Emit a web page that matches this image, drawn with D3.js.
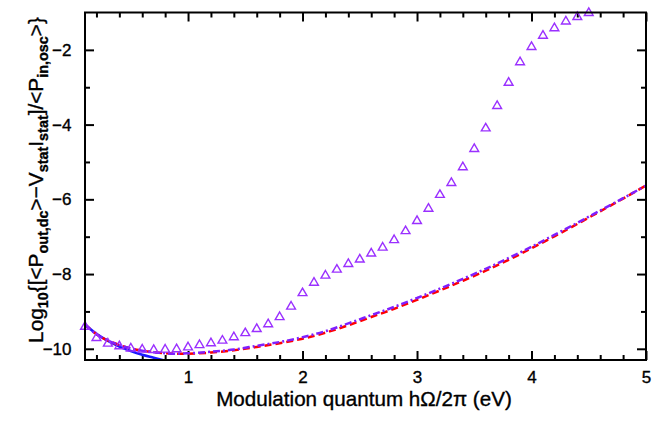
<!DOCTYPE html>
<html>
<head>
<meta charset="utf-8">
<script src="https://cdn.jsdelivr.net/npm/d3@7"></script>
<style>
  html, body { margin: 0; padding: 0; background: #fff; }
  svg { display: block; }
</style>
</head>
<body>
<svg id="chart" width="653" height="436"></svg>
<script>
// ---------- data ----------
const xMajorTicks = [1, 2, 3, 4, 5];
const xMinorTicks = [0.2, 0.4, 0.6, 0.8, 1.2, 1.4, 1.6, 1.8, 2.2, 2.4, 2.6, 2.8, 3.2, 3.4, 3.6, 3.8, 4.2, 4.4, 4.6, 4.8];
const yMajorTicks = [-2, -4, -6, -8, -10];
const yMinorTicks = [-3, -5, -7, -9];

const triX = [0.1,0.2,0.3,0.4,0.5,0.6,0.7,0.8,0.9,1.0,
              1.1,1.2,1.3,1.4,1.5,1.6,1.7,1.8,1.9,2.0,
              2.1,2.2,2.3,2.4,2.5,2.6,2.7,2.8,2.9,3.0,
              3.1,3.2,3.3,3.4,3.5,3.6,3.7,3.8,3.9,4.0,
              4.1,4.2,4.3,4.4,4.5];
const triY = [-9.39,-9.69,-9.84,-9.91,-9.97,-10.0,-10.01,-10.0,-9.99,-9.94,
              -9.88,-9.83,-9.76,-9.67,-9.56,-9.45,-9.32,-9.13,-8.85,-8.49,
              -8.21,-8.02,-7.86,-7.71,-7.59,-7.43,-7.27,-7.07,-6.83,-6.56,
              -6.23,-5.86,-5.54,-5.12,-4.63,-4.08,-3.48,-2.86,-2.31,-1.90,
              -1.60,-1.40,-1.22,-1.10,-0.99];

const curveX = [0.1,0.2,0.3,0.4,0.5,0.6,0.7,0.8,0.9,1.0,1.2,1.4,1.6,1.8,2.0,2.2,2.4,2.6,2.8,3.0,3.2,3.4,3.6,3.8,4.0,4.2,4.4,4.6,4.8,5.0];
const redY   = [-9.35,-9.61,-9.78,-9.90,-9.99,-10.05,-10.09,-10.12,-10.13,-10.13,-10.10,-10.04,-9.95,-9.85,-9.73,-9.57,-9.37,-9.15,-8.93,-8.69,-8.44,-8.18,-7.91,-7.62,-7.31,-6.99,-6.66,-6.32,-5.98,-5.63];
const purpleY= [-9.35,-9.61,-9.78,-9.90,-9.99,-10.05,-10.09,-10.12,-10.13,-10.12,-10.08,-10.02,-9.92,-9.82,-9.69,-9.53,-9.32,-9.10,-8.88,-8.64,-8.39,-8.13,-7.86,-7.57,-7.27,-6.95,-6.63,-6.30,-5.97,-5.63];

const blueX = [0.1,0.2,0.3,0.4,0.5,0.6,0.7,0.8];
const blueY = [-9.35,-9.60,-9.79,-9.94,-10.06,-10.16,-10.24,-10.32];

// ---------- layout ----------
const svg = d3.select("#chart");
const L = 85, R = 646, T = 12.5, B = 360;
const x = d3.scaleLinear().domain([0.1, 5]).range([L, R]);
const y = d3.scaleLinear().domain([-10.3, -1]).range([B, T]);
const font = "'Liberation Sans', Arial, Helvetica, sans-serif";

svg.append("defs").append("clipPath").attr("id", "clip")
  .append("rect").attr("x", L).attr("y", T).attr("width", R - L).attr("height", B - T);

// axes (ticks pointing inward)
function styleAxis(g) {
  g.select(".domain").remove();
  g.selectAll(".tick line").attr("stroke", "#000").attr("stroke-width", 2);
  g.selectAll(".tick text").attr("fill", "#000").attr("font-family", font).attr("font-size", 17)
    .attr("stroke", "#000").attr("stroke-width", 0.35);
}
svg.append("g").attr("transform", `translate(0,${B})`)
  .call(d3.axisBottom(x).tickValues(xMajorTicks).tickSize(-9).tickPadding(11).tickFormat(d3.format("d"))).call(styleAxis);
svg.append("g").attr("transform", `translate(0,${B})`)
  .call(d3.axisBottom(x).tickValues(xMinorTicks).tickSize(-5).tickFormat("")).call(styleAxis);
svg.append("g").attr("transform", `translate(0,${T})`)
  .call(d3.axisTop(x).tickValues(xMajorTicks).tickSize(-9).tickFormat("")).call(styleAxis);
svg.append("g").attr("transform", `translate(0,${T})`)
  .call(d3.axisTop(x).tickValues(xMinorTicks).tickSize(-5).tickFormat("")).call(styleAxis);
svg.append("g").attr("transform", `translate(${L},0)`)
  .call(d3.axisLeft(y).tickValues(yMajorTicks).tickSize(-9).tickPadding(13.5).tickFormat(d3.format("d"))).call(styleAxis);
svg.append("g").attr("transform", `translate(${L},0)`)
  .call(d3.axisLeft(y).tickValues(yMinorTicks).tickSize(-5).tickFormat("")).call(styleAxis);
svg.append("g").attr("transform", `translate(${R},0)`)
  .call(d3.axisRight(y).tickValues(yMajorTicks).tickSize(-9).tickFormat("")).call(styleAxis);
svg.append("g").attr("transform", `translate(${R},0)`)
  .call(d3.axisRight(y).tickValues(yMinorTicks).tickSize(-5).tickFormat("")).call(styleAxis);

// curves
const line = d3.line().x(d => x(d[0])).y(d => y(d[1])).curve(d3.curveMonotoneX);
const plot = svg.append("g").attr("clip-path", "url(#clip)");
plot.append("path").datum(d3.zip(blueX, blueY)).attr("d", line)
  .attr("fill", "none").attr("stroke", "#1a1aff").attr("stroke-width", 2.5);
plot.append("path").datum(d3.zip(curveX, redY)).attr("d", line)
  .attr("fill", "none").attr("stroke", "#ff0000").attr("stroke-width", 2.5)
  .attr("stroke-dasharray", "7,4");
plot.append("path").datum(d3.zip(curveX, purpleY)).attr("d", line)
  .attr("fill", "none").attr("stroke", "#7f1fff").attr("stroke-width", 2.5)
  .attr("stroke-dasharray", "7,3,2,3");

// triangles
const tri = "M0,-4.3L4.4,3.3L-4.4,3.3Z";
svg.append("g").selectAll("path").data(d3.zip(triX, triY)).join("path")
  .attr("d", tri)
  .attr("transform", d => `translate(${x(d[0])},${y(d[1])})`)
  .attr("fill", "none").attr("stroke", "#9a30ff").attr("stroke-width", 1.4);

// frame
svg.append("rect").attr("x", L).attr("y", T).attr("width", R - L).attr("height", B - T)
  .attr("fill", "none").attr("stroke", "#000").attr("stroke-width", 2);

// x title
const xt = svg.append("text").attr("x", 364).attr("y", 406).attr("text-anchor", "middle")
  .attr("font-family", font).attr("font-size", 17).attr("fill", "#000")
  .attr("stroke", "#000").attr("stroke-width", 0.35)
  .text("Modulation quantum hΩ/2π (eV)");
{
  const w = xt.node().getComputedTextLength();
  xt.attr("font-size", 17 * 296 / w);
}

// y title
const yt = svg.append("text").attr("transform", "translate(43,180) rotate(-90)")
  .attr("text-anchor", "middle").attr("font-family", font)
  .attr("font-size", 18).attr("fill", "#000").attr("stroke", "#000").attr("stroke-width", 0.35);
const parts = [["Log", false], ["10", true], ["{[<P", false], ["out,dc", true], [">−V", false], ["stat", true],
               ["I", false], ["stat", true], ["]/<P", false], ["in,osc", true], [">}", false]];
let prevSub = false;
parts.forEach(([t, sub]) => {
  const ts = yt.append("tspan").text(t);
  if (sub) {
    ts.attr("font-size", 12.5).attr("font-weight", "bold");
    if (!prevSub) ts.attr("dy", 5);
  } else if (prevSub) {
    ts.attr("dy", -5);
  }
  prevSub = sub;
});
{
  const w = yt.node().getComputedTextLength();
  const s = 326 / w;
  yt.attr("font-size", 18 * s);
  yt.selectAll("tspan").filter((d, i) => parts[i][1]).attr("font-size", 12.5 * s);
}
</script>
</body>
</html>
